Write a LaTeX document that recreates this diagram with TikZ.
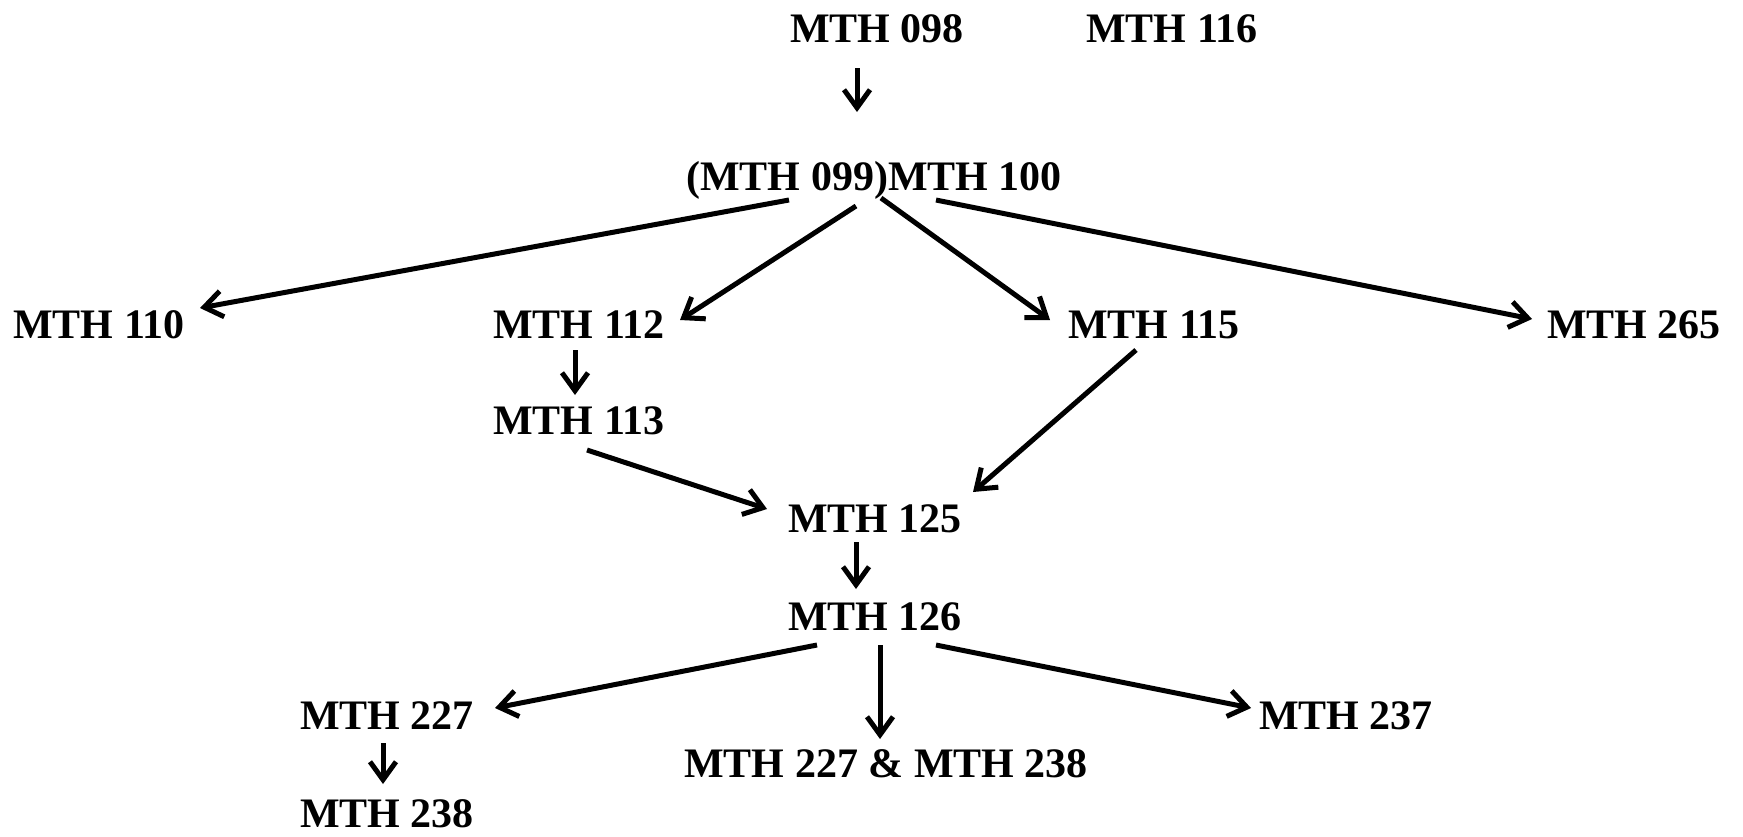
\documentclass[tikz,border=0pt]{standalone}
\usepackage{fontspec}
\setmainfont{Liberation Serif}
\usetikzlibrary{arrows.meta,calc}

\begin{document}
\begin{tikzpicture}[x=0.5pt, y=-0.5pt,
  course/.style={font=\bfseries\fontsize{21}{25}\selectfont, inner sep=0pt, text height=1.22em, text depth=0pt},
  arr/.style={line width=2.5pt, -{Straight Barb[length=9pt, width=13pt]}}]
  \useasboundingbox (0,0) rectangle (1743,836);

  % top row
  \node[course] (n098) at (877,30) {MTH 098};
  \node[course] (n116) at (1172,30) {MTH 116};
  \node[course] (n100) at (874,178) {(MTH 099)MTH 100};

  % second row
  \node[course] (n110) at (99,326) {MTH 110};
  \node[course] (n112) at (579,326) {MTH 112};
  \node[course] (n115) at (1154,326) {MTH 115};
  \node[course] (n265) at (1634,326) {MTH 265};
  \node[course] (n113) at (579,422) {MTH 113};

  % middle
  \node[course] (n125) at (875,520) {MTH 125};
  \node[course] (n126) at (875,618) {MTH 126};

  % bottom row
  \node[course] (n227) at (387,717) {MTH 227};
  \node[course] (n237) at (1346,717) {MTH 237};
  \node[course] (nboth) at (886,765) {MTH 227 \& MTH 238};
  \node[course] (n238) at (387,815) {MTH 238};

\path[arr] ($(n098)+(-20,38)$) edge ($(n100)+(-17,-66)$)
($(n100)+(-85,22)$) edge ($(n110)+(101,-18)$)
($(n100)+(-18,28)$) edge ($(n112)+(101,-6)$)
($(n100)+(7,20)$) edge ($(n115)+(-104,-6)$)
($(n100)+(62,22)$) edge ($(n265)+(-102,-7)$)
($(n112)+(-4,24)$) edge ($(n113)+(-4,-27)$)
($(n113)+(8,28)$) edge ($(n125)+(-108,-11)$)
($(n115)+(-18,24)$) edge ($(n125)+(98,-28)$)
($(n125)+(-19,22)$) edge ($(n126)+(-19,-29)$)
($(n126)+(-58,27)$) edge ($(n227)+(108,-9)$)
($(n126)+(5,27)$) edge ($(nboth)+(-6,-26)$)
($(n126)+(61,27)$) edge ($(n237)+(-95,-9)$)
($(n227)+(-4,26)$) edge ($(n238)+(-4,-31)$);
\end{tikzpicture}
\end{document}
